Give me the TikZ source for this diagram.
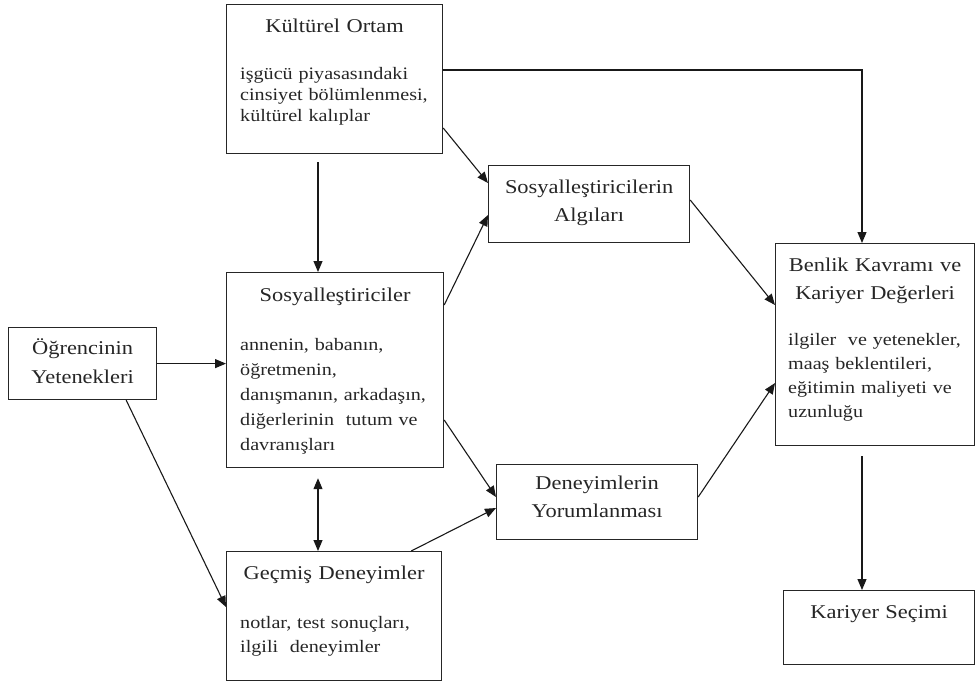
\documentclass[tikz,border=0pt]{standalone}
\usepackage{fontspec}
\setmainfont{Liberation Serif}[FakeStretch=1.15]
\usetikzlibrary{arrows.meta,positioning}

\begin{document}
\begin{tikzpicture}[x=1pt,y=-1pt,
    kutu/.style={draw=black!85,line width=1.2pt,anchor=north west,inner sep=0pt},
    baslik/.style={anchor=base,align=center,text width=196pt,inner sep=0pt,font=\fontsize{19.5}{28}\selectfont,text=black!85},
    icerik/.style={anchor=base west,align=left,inner sep=0pt,font=\fontsize{17.5}{24}\selectfont,text=black!85},
    ok/.style={-{Triangle[length=11pt,width=9pt]},line width=1.1pt,draw=black!90}]
    \useasboundingbox(0,0)rectangle(976,686);

    \node[kutu,minimum width=216pt,minimum height=149pt](kultur)at(226,4){};
    \node[baslik](kulturT)at([yshift=-28pt]kultur.north){Kültürel Ortam};
    \node[icerik,text width=200pt,font=\fontsize{17.5}{21}\selectfont](kulturB)at([xshift=14pt,yshift=-75pt]kultur.north west)
        {işgücü piyasasındaki\\cinsiyet bölümlenmesi,\\kültürel kalıplar};

    \node[kutu,minimum width=217pt,minimum height=195pt](sosyal)at(226,272){};
    \node[baslik](sosyalT)at([yshift=-29pt]sosyal.north){Sosyalleştiriciler};
    \node[icerik,text width=200pt,font=\fontsize{17.5}{25}\selectfont](sosyalB)at([xshift=14pt,yshift=-78pt]sosyal.north west)
        {annenin, babanın,\\öğretmenin,\\danışmanın, arkadaşın,\\diğerlerinin\ \ tutum ve\\davranışları};

    \node[kutu,minimum width=148pt,minimum height=72pt](ogrenci)at(8,327){};
    \node[baslik,font=\fontsize{19.5}{29}\selectfont](ogrenciT)at([yshift=-27pt]ogrenci.north){Öğrencinin\\Yetenekleri};

    \node[kutu,minimum width=215pt,minimum height=129pt](gecmis)at(226,551){};
    \node[baslik](gecmisT)at([yshift=-28pt]gecmis.north){Geçmiş Deneyimler};
    \node[icerik,text width=200pt](gecmisB)at([xshift=14pt,yshift=-77pt]gecmis.north west)
        {notlar, test sonuçları,\\ilgili\ \ deneyimler};

    \node[kutu,minimum width=201pt,minimum height=77pt](algi)at(488,165){};
    \node[baslik](algiT)at([yshift=-28pt]algi.north){Sosyalleştiricilerin\\Algıları};

    \node[kutu,minimum width=201pt,minimum height=75pt](yorum)at(496,464){};
    \node[baslik](yorumT)at([yshift=-25pt]yorum.north){Deneyimlerin\\Yorumlanması};

    \node[kutu,minimum width=199pt,minimum height=202pt](benlik)at(775,243){};
    \node[baslik](benlikT)at([yshift=-28pt]benlik.north){Benlik Kavramı ve\\Kariyer Değerleri};
    \node[icerik,text width=185pt](benlikB)at([xshift=13pt,yshift=-102pt]benlik.north west)
        {ilgiler\ \ ve yetenekler,\\maaş beklentileri,\\eğitimin maliyeti ve\\uzunluğu};

    \node[kutu,minimum width=191pt,minimum height=74pt](kariyer)at(783,590){};
    \node[baslik](kariyerT)at([yshift=-28pt]kariyer.north){Kariyer Seçimi};

    \draw[ok]([yshift=-66pt]kultur.north east)-|([xshift=87pt]benlik.north west);
    \draw[ok]([yshift=-124pt]kultur.north east)--([yshift=-18pt]algi.north west);
    \draw[ok,shorten <=8pt]([xshift=92pt]kultur.south west)--([xshift=92pt]sosyal.north west);
    \draw[ok]([yshift=-33pt]sosyal.north east)--([yshift=-50pt]algi.north west);
    \draw[ok]([yshift=-148pt]sosyal.north east)--([yshift=-33pt]yorum.north west);
    \draw[ok](ogrenci.east)--(ogrenci.east-|sosyal.west);
    \draw[ok]([xshift=-31pt]ogrenci.south east)--([yshift=-56pt]gecmis.north west);
    \draw[ok,{Triangle[length=11pt,width=9pt]}-{Triangle[length=11pt,width=9pt]},shorten <=10pt]([xshift=92pt]sosyal.south west)--([xshift=92pt]gecmis.north west);
    \draw[ok]([xshift=-31pt]gecmis.north east)--([yshift=-44pt]yorum.north west);
    \draw[ok]([yshift=-35pt]algi.north east)--([yshift=-62pt]benlik.north west);
    \draw[ok]([yshift=-33pt]yorum.north east)--([yshift=-140pt]benlik.north west);
    \draw[ok,shorten <=10pt]([xshift=87pt]benlik.south west)--([xshift=87pt]benlik.south west|-kariyer.north);
\end{tikzpicture}
\end{document}
